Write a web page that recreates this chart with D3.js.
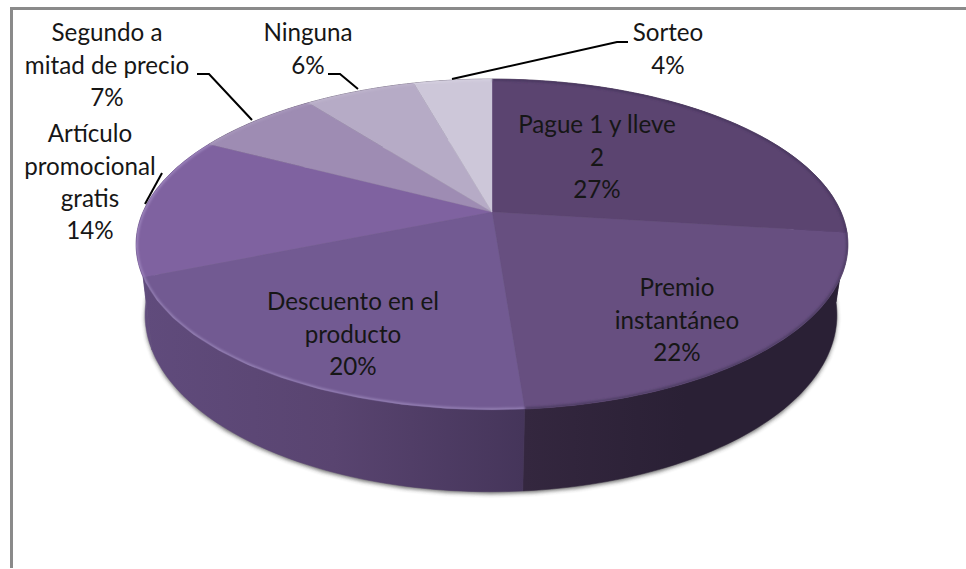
<!DOCTYPE html>
<html><head><meta charset="utf-8">
<script src="https://cdnjs.cloudflare.com/ajax/libs/d3/7.8.5/d3.min.js"></script>
<style>html,body{margin:0;padding:0;background:#fff;overflow:hidden}svg{display:block}</style>
</head><body><svg id="c" width="966" height="569"></svg>
<script>
// ---- data ----
const categories = ["Pague 1 y lleve 2","Premio instantáneo","Descuento en el producto","Artículo promocional gratis","Segundo a mitad de precio","Ninguna","Sorteo"];
const values = [27, 21.8, 20, 13.9, 6.9, 6.1, 4.3];
// ---- presentation ----
const labelLines = [["Pague 1 y lleve","2"],["Premio","instantáneo"],["Descuento en el","producto"],["Artículo","promocional","gratis"],["Segundo a","mitad de precio"],["Ninguna"],["Sorteo"]];
const labelAt = [[597,125],[677,288],[353,302],[90,134],[107,33],[308,33],[668,33]];
const leaders = [null,null,null,[[145,204],[162,173]],[[197,74],[209,74],[252,120]],[[328,74],[340,74],[358,89]],[[628,42],[617,42],[452,79]]];
const topColors = ["#5b4470","#674f80","#725a92","#7f62a0","#9e8cb3","#b6abc6","#cdc7d9"];
const rimColors = ["#4a3760","#4e3d64","#9480b4","#9c84bc","#a898bc","#beb4cc","#d4cfdf"];
const sideStops = [["#2a2035","#2a2035"],["#34273f","#2a2035","#2a2035"],["#604b7c","#594470","#45355a"],["#6a5488","#604c7c"],["#2a2035","#2a2035"],["#2a2035","#2a2035"],["#2a2035","#2a2035"]];
const lineGap = 32.3, fontSize = 24.2;

const svg = d3.select("#c");
const defs = svg.append("defs");
const blur = defs.append("filter").attr("id","soft").attr("x","-10%").attr("y","-10%").attr("width","120%").attr("height","120%");
blur.append("feGaussianBlur").attr("stdDeviation",2);
const blurRim = defs.append("filter").attr("id","rim").attr("x","-10%").attr("y","-10%").attr("width","120%").attr("height","120%");
blurRim.append("feGaussianBlur").attr("stdDeviation",0.8);

// perspective projection of the pie plane
const sx = d3.scaleLinear().domain([-1,1]).range([492-349,492+349]);
const sy = d3.scaleLinear().domain([-1,1]).range([212-159,212+159]);
const k = -0.196;
function proj(t){ const u=Math.sin(t), v=-Math.cos(t), w=1+k*v; return [sx(u/w), sy(v/w)]; }
const bx = d3.scaleLinear().domain([136,848]).range([491-346,491+346]);
const by = d3.scaleLinear().domain([79,410]).range([315-177,315+177]);
function projB(t){ const p=proj(t); return [bx(p[0]), by(p[1])]; }

const arcs = d3.pie().sort(null).value(d=>d)(values);
const line = d3.line();
const samples = (a,b,f)=>d3.range(0,61).map(i=>f(a+(b-a)*i/60));

// frame
svg.append("path").attr("d",line([[966,8.5],[11.5,8.5],[11.5,568]])).attr("fill","none").attr("stroke","#8a8a8a").attr("stroke-width",3);

// shadow
const full = samples(0,2*Math.PI,projB);
svg.append("path").attr("d",line(full)+"Z").attr("transform","translate(0,2)").attr("fill","#333").attr("opacity",.75).attr("filter","url(#soft)");

// side walls
arcs.forEach((a,i)=>{
  const id="side"+i;
  const g=defs.append("linearGradient").attr("id",id).attr("gradientUnits","userSpaceOnUse")
    .attr("x1",proj(a.endAngle)[0]).attr("x2",proj(a.startAngle)[0]).attr("y1",0).attr("y2",0);
  sideStops[i].forEach((c,j,s)=>g.append("stop").attr("offset",j/(s.length-1)).attr("stop-color",c));
  const pts = samples(a.startAngle,a.endAngle,proj).concat(samples(a.endAngle,a.startAngle,projB));
  svg.append("path").attr("d",line(pts)+"Z").attr("fill",`url(#${id})`).attr("stroke",`url(#${id})`).attr("stroke-width",.5);
});

// top face
defs.append("clipPath").attr("id","face").append("path").attr("d",line(samples(0,2*Math.PI,proj))+"Z");
const centre = [sx(0), sy(0)];
const faces = svg.append("g");
arcs.forEach((a,i)=>{
  const pts=[centre].concat(samples(a.startAngle,a.endAngle,proj));
  faces.append("path").attr("d",line(pts)+"Z").attr("fill",topColors[i]).attr("stroke",topColors[i]).attr("stroke-width",.4);
});
const rims = svg.append("g").attr("clip-path","url(#face)");
arcs.forEach((a,i)=>{
  rims.append("path").attr("d",line(samples(a.startAngle,a.endAngle,proj))).attr("fill","none")
    .attr("stroke",rimColors[i]).attr("stroke-width",3.5).attr("filter","url(#rim)");
});

// leaders
leaders.forEach(l=>{ if(l) svg.append("path").attr("d",line(l)).attr("fill","none").attr("stroke","#000").attr("stroke-width",2); });

// labels
const labels = svg.append("g").attr("font-family","Lato, 'Open Sans', sans-serif").attr("font-size",fontSize).attr("fill","#161616").attr("text-anchor","middle");
arcs.forEach((a,i)=>{
  const rows = labelLines[i].concat(Math.round(a.value)+"%");
  rows.forEach((r,j)=>{
    labels.append("text").attr("x",labelAt[i][0]).attr("y",labelAt[i][1]+j*lineGap).attr("dy","0.35em").text(r);
  });
});
</script></body></html>
